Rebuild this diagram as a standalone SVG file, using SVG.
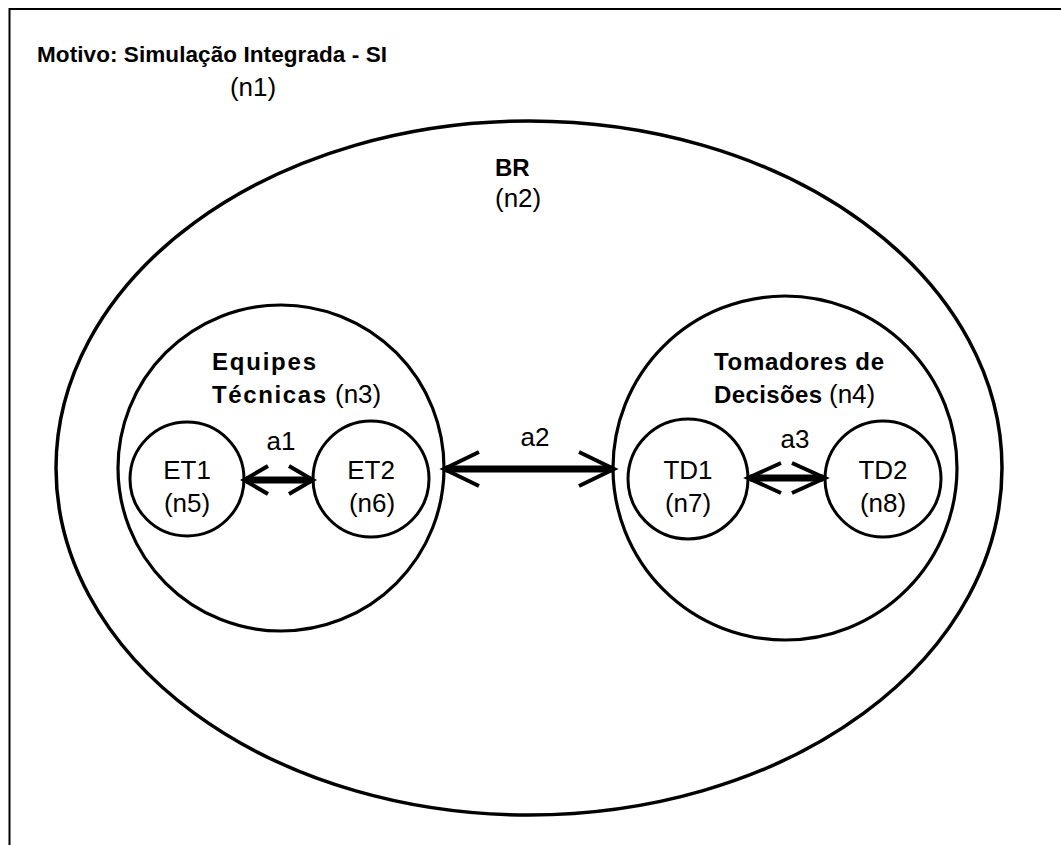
<svg xmlns="http://www.w3.org/2000/svg" width="1061" height="845" viewBox="0 0 1061 845">
  <style>
    .ring { fill: none; stroke: #000; }
    .t { font-family: "Liberation Sans", Arial, sans-serif; font-size: 26px; fill: #000; }
    .c { text-anchor: middle; }
    .b { font-weight: bold; font-size: 24px; }
    .shaft { stroke: #000; stroke-width: 7; fill: none; }
    .head { stroke: #000; stroke-width: 4; fill: none; stroke-linecap: butt; stroke-linejoin: miter; }
  </style>
  <rect width="1061" height="845" fill="#fff"/>

  <!-- n1: frame -->
  <g id="n1">
    <path d="M9.5 845 V9 H1061" fill="none" stroke="#000" stroke-width="2"/>
    <text class="t b" x="37" y="62" textLength="350" lengthAdjust="spacing" style="font-size:22.5px">Motivo: Simulação Integrada - SI</text>
    <text class="t c" x="253" y="96">(n1)</text>
  </g>

  <!-- n2: BR -->
  <g id="n2">
    <ellipse class="ring" cx="529" cy="468" rx="473" ry="347" stroke-width="3.5"/>
    <text class="t b" x="495" y="176">BR</text>
    <text class="t" x="495" y="207">(n2)</text>
  </g>

  <!-- n3: Equipes Técnicas -->
  <g id="n3">
    <circle class="ring" cx="281" cy="468" r="163" stroke-width="3.2"/>
    <text class="t b" x="212" y="370" textLength="104" lengthAdjust="spacing">Equipes</text>
    <text class="t" x="212" y="403"><tspan class="b" textLength="114" lengthAdjust="spacing">Técnicas</tspan><tspan x="335">(n3)</tspan></text>
  </g>

  <!-- n4: Tomadores de Decisões -->
  <g id="n4">
    <circle class="ring" cx="785" cy="468" r="172" stroke-width="3.2"/>
    <text class="t b" x="714" y="370" textLength="170" lengthAdjust="spacing">Tomadores de</text>
    <text class="t" x="714" y="403"><tspan class="b" textLength="108" lengthAdjust="spacing">Decisões</tspan><tspan x="829">(n4)</tspan></text>
  </g>

  <!-- n5..n8: members -->
  <g id="n5">
    <circle class="ring" cx="187" cy="479" r="57" stroke-width="3"/>
    <text class="t c" x="187" y="479">ET1</text>
    <text class="t c" x="187" y="512">(n5)</text>
  </g>
  <g id="n6">
    <circle class="ring" cx="371" cy="479" r="58" stroke-width="3"/>
    <text class="t c" x="371" y="479">ET2</text>
    <text class="t c" x="372" y="512">(n6)</text>
  </g>
  <g id="n7">
    <circle class="ring" cx="688" cy="479" r="60" stroke-width="3"/>
    <text class="t c" x="688" y="479">TD1</text>
    <text class="t c" x="688" y="512">(n7)</text>
  </g>
  <g id="n8">
    <circle class="ring" cx="883" cy="479" r="58" stroke-width="3"/>
    <text class="t c" x="883" y="479">TD2</text>
    <text class="t c" x="883" y="512">(n8)</text>
  </g>

  <!-- connectors: double-headed links -->
  <g id="connectors">
    <g id="a1">
      <line class="shaft" x1="246" y1="480" x2="311" y2="480"/>
      <polyline class="head" points="268,466 244,480 268,494"/>
      <polyline class="head" points="289,466 313,480 289,494"/>
      <text class="t c" x="281" y="450">a1</text>
    </g>
    <g id="a2">
      <line class="shaft" x1="446" y1="469" x2="612" y2="469"/>
      <polyline class="head" points="479,452 444,469 479,486"/>
      <polyline class="head" points="579,452 614,469 579,486"/>
      <text class="t c" x="535" y="446">a2</text>
    </g>
    <g id="a3">
      <line class="shaft" x1="750" y1="478" x2="823" y2="478"/>
      <polyline class="head" points="781,463 748,478 781,493"/>
      <polyline class="head" points="792,463 825,478 792,493"/>
      <text class="t c" x="795" y="448">a3</text>
    </g>
  </g>
</svg>
